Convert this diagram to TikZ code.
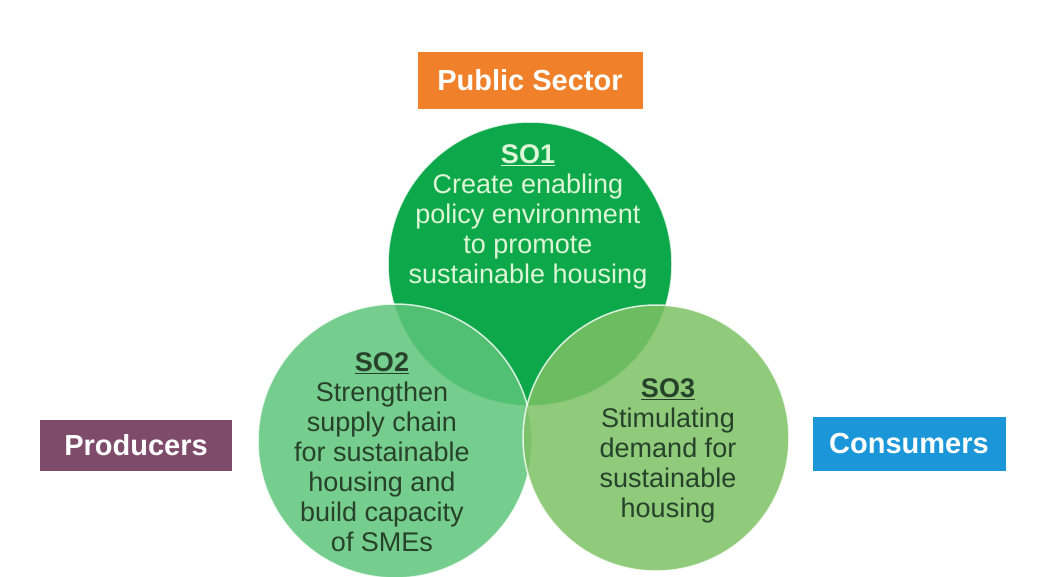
\documentclass[tikz,border=0pt]{standalone}
\usepackage{fontspec}
\setmainfont{Liberation Sans}
\usepackage{xcolor}
\definecolor{colPub}{HTML}{F0802A}
\definecolor{colProd}{HTML}{7E4B6B}
\definecolor{colCons}{HTML}{1B96D9}
\definecolor{colSOa}{HTML}{0CA84A}
\definecolor{colSOb}{HTML}{5EC57A}
\definecolor{colSOc}{HTML}{7DC164}
\definecolor{colTxtDark}{HTML}{27422A}
\definecolor{colTxtLight}{HTML}{DDF6D8}
\usepackage{tikz}
\usetikzlibrary{positioning}
\tikzset{
	actorbox/.style={rectangle, fill=#1, text=white, inner sep=0pt, font=\fontsize{29}{33}\selectfont\bfseries},
	socircle/.style={circle, fill=#1, fill opacity=0.85, draw=white, draw opacity=0.8, line width=1.5pt, inner sep=0pt},
	sotext/.style={align=center, inner sep=0pt, font=\fontsize{27}{30}\selectfont},
}

\begin{document}
\begin{tikzpicture}[x=1pt, y=-1pt]
	\useasboundingbox (0,0) rectangle (1038,576);
	\clip (0,0) rectangle (1038,576);

	% Circles
	\node[socircle=colSOa, fill opacity=1, minimum size=284] (so1) at (530,264) {};
	\node[socircle=colSOb, minimum size=274] (so2) at (395,441) {};
	\node[socircle=colSOc, minimum size=266] (so3) at (656,438) {};

	% Circle texts
	\node[sotext, text=colTxtLight] (so1text) at (528,217) {\underline{\textbf{SO1}}\\Create enabling\\policy environment\\to promote\\sustainable housing};
	\node[sotext, text=colTxtDark] (so2text) at (382,452) {\underline{\textbf{SO2}}\\Strengthen\\supply chain\\for sustainable\\housing and\\build capacity\\of SMEs};
	\node[sotext, text=colTxtDark] (so3text) at (668,451) {\underline{\textbf{SO3}}\\Stimulating\\demand for\\sustainable\\housing};

	% Actors
	\node[actorbox=colPub, minimum width=225, minimum height=57] (pub) at (530,80) {Public Sector};
	\node[actorbox=colProd, minimum width=192, minimum height=51] (prod) at (136,445) {Producers};
	\node[actorbox=colCons, minimum width=193, minimum height=54] (cons) at (909,444) {Consumers};
\end{tikzpicture}
\end{document}
